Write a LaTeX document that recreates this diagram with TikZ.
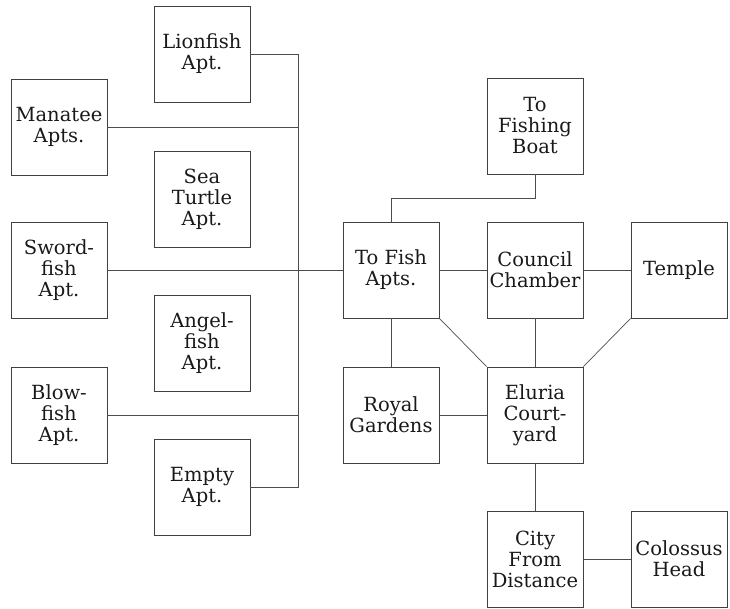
\documentclass[tikz,border=0pt]{standalone}
\usepackage{fontspec}
\setmainfont{DejaVu Serif}
\begin{document}
\begin{tikzpicture}[x=1pt,y=-1pt,
  room/.style={draw=black!75, line width=0.8pt, minimum width=96pt, minimum height=96pt,
    inner sep=0pt, align=center, font=\fontsize{19.5}{21}\selectfont, text=black!90},
  link/.style={draw=black!70, line width=0.7pt}]
\useasboundingbox (0,0) rectangle (730,609);
\node[room] (lion) at (202,54) {Lionfish\\Apt.};
\node[room] (mana) at (59,127) {Manatee\\Apts.};
\node[room] (turt) at (202,199) {Sea\\Turtle\\Apt.};
\node[room] (swor) at (59,270) {Sword-\\fish\\Apt.};
\node[room] (ange) at (202,343) {Angel-\\fish\\Apt.};
\node[room] (blow) at (59,415) {Blow-\\fish\\Apt.};
\node[room] (empt) at (202,487) {Empty\\Apt.};
\node[room] (tofi) at (391,270) {To Fish\\Apts.};
\node[room] (boat) at (535,126) {To\\Fishing\\Boat};
\node[room] (coun) at (535,270) {Council\\Chamber};
\node[room] (temp) at (679,270) {Temple};
\node[room] (roya) at (391,415) {Royal\\Gardens};
\node[room] (elur) at (535,415) {Eluria\\Court-\\yard};
\node[room] (city) at (535,559) {City\\From\\Distance};
\node[room] (colo) at (679,559) {Colossus\\Head};
\coordinate (bustop) at (298,54);
\coordinate (busbot) at (298,487);
\coordinate (bmana) at (298,127);
\coordinate (bblow) at (298,415);
\coordinate (boatbend) at (535,198);
\draw[link] (lion.east) -- (bustop) -- (busbot) -- (empt.east);
\draw[link] (mana.east) -- (bmana);
\draw[link] (blow.east) -- (bblow);
\draw[link] (swor.east) -- (tofi.west);
\draw[link] (boat.south) -- (boatbend) -| (tofi.north);
\draw[link] (tofi.east) -- (coun.west);
\draw[link] (coun.east) -- (temp.west);
\draw[link] (tofi.south) -- (roya.north);
\draw[link] (tofi.south east) -- (elur.north west);
\draw[link] (coun.south) -- (elur.north);
\draw[link] (temp.south west) -- (elur.north east);
\draw[link] (roya.east) -- (elur.west);
\draw[link] (elur.south) -- (city.north);
\draw[link] (city.east) -- (colo.west);
\end{tikzpicture}
\end{document}
